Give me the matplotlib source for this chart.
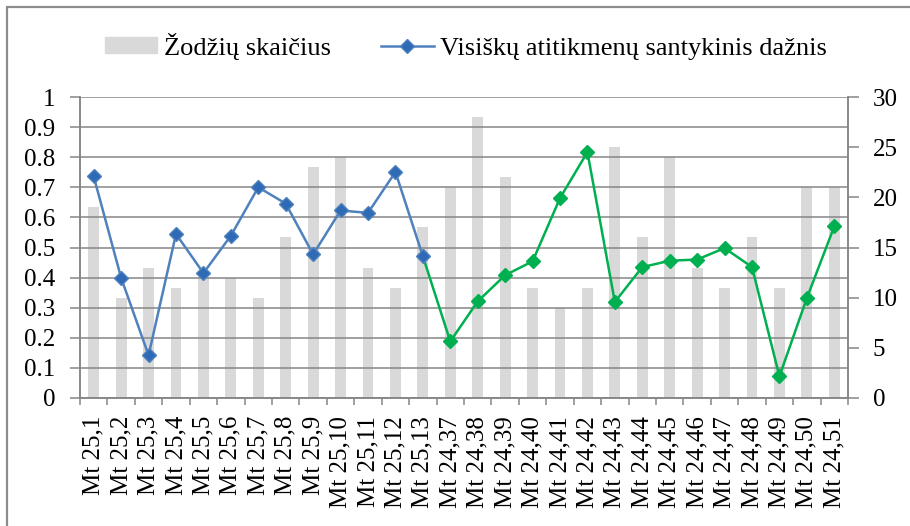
import numpy as np
import matplotlib
matplotlib.use("Agg")
import matplotlib.pyplot as plt
from matplotlib.patches import Patch, Rectangle
from matplotlib.lines import Line2D

plt.rcParams['font.family'] = ['Liberation Serif', 'DejaVu Serif']

# data
labels = ["Mt 25,%d" % i for i in range(1, 14)] + ["Mt 24,%d" % i for i in range(37, 52)]
words = [19, 10, 13, 11, 12, 12, 10, 16, 23, 24, 13, 11, 17,
         21, 28, 22, 11, 9, 11, 25, 16, 24, 13, 11, 16, 11, 21, 21]
freq = [0.736, 0.399, 0.142, 0.545, 0.415, 0.539, 0.700, 0.646, 0.477, 0.623,
        0.615, 0.751, 0.471,
        0.188, 0.321, 0.408, 0.454, 0.664, 0.817, 0.319, 0.435, 0.456, 0.460,
        0.498, 0.435, 0.072, 0.332, 0.570]
n_first = 13  # Mt 25 group drawn in blue

bar_color = '#D9D9D9'
blue_line = '#4F81BD'
blue_mark = '#2F6AB6'
green = '#00B050'
grid_color = '#868686'

fig = plt.figure(figsize=(9.10, 5.26), dpi=100)
ax1 = fig.add_axes([80/910, 1-398/526, 768/910, 301/526])
ax2 = ax1.twinx()
ax1.set_zorder(ax2.get_zorder() + 1)
ax1.patch.set_visible(False)

x = np.arange(len(labels))

# bars on the right axis
ax2.bar(x, words, width=0.4, color=bar_color, zorder=1)
ax2.set_ylim(0, 30)
ax2.set_yticks(range(0, 31, 5))

# line on the left axis
ax1.plot(x[n_first-1:], freq[n_first-1:], color=green, lw=1.8, marker='D', ms=6.8,
         markevery=list(range(1, len(x) - n_first + 1)), zorder=3)
ax1.plot(x[:n_first], freq[:n_first], color=blue_line, lw=1.8, marker='D', ms=6.8,
         markerfacecolor=blue_mark, markeredgecolor=blue_line, zorder=4)
ax1.set_ylim(0, 1)
ax1.set_yticks(np.round(np.arange(0, 1.01, 0.1), 1))
ax1.set_yticklabels(['0'] + ['%.1f' % v for v in np.arange(0.1, 0.95, 0.1)] + ['1'])
ax1.yaxis.grid(True, color=grid_color, lw=1.1)
ax1.set_axisbelow(True)

ax1.set_xlim(-0.5, len(x) - 0.5)
ax1.set_xticks(x)
ax1.set_xticklabels(labels, rotation=90, fontsize=18)
ax1.set_xticks(np.arange(-0.5, len(x), 1.0), minor=True)
ax1.tick_params(axis='x', which='major', length=0, pad=13)
ax1.tick_params(axis='x', which='minor', length=5, width=1.1, color=grid_color)
ax1.tick_params(axis='y', length=7, width=1.1, color=grid_color, labelsize=18, pad=11)
ax2.tick_params(axis='y', length=8, width=1.1, color=grid_color, labelsize=18, pad=10)

for ax in (ax1, ax2):
    for s in ('left', 'right', 'bottom'):
        ax.spines[s].set_color(grid_color)
        ax.spines[s].set_linewidth(1.1)
    ax.spines['top'].set_visible(False)

handles = [Patch(color=bar_color),
           Line2D([], [], color=blue_line, lw=1.8, marker='D', ms=6.8,
                  markerfacecolor=blue_mark, markeredgecolor=blue_line)]
fig.legend(handles, ["Žodžių skaičius", "Visiškų atitikmenų santykinis dažnis"],
           loc='center', bbox_to_anchor=(0.512, 1-46/526), ncol=2, frameon=False,
           fontsize=19, handlelength=2.0, handletextpad=0.25, columnspacing=1.9,
           handleheight=0.55)

fig.add_artist(Rectangle((7/910, -0.05), 1.1, 1.05 - 7/526, transform=fig.transFigure,
                         fill=False, edgecolor='#8C8C8C', lw=1.6, clip_on=False))

fig.savefig('out.png', dpi=100)
